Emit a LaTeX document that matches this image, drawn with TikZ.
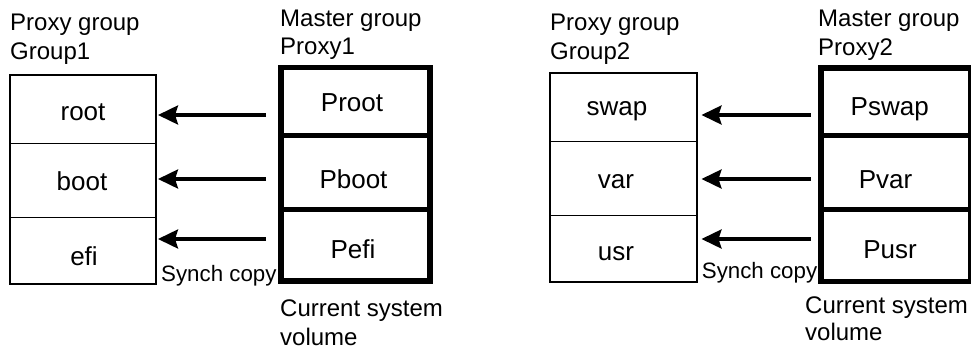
\documentclass[tikz,border=0pt]{standalone}
\usepackage{fontspec}
\setmainfont{Liberation Sans}
\usetikzlibrary{arrows.meta}
\begin{document}
\begin{tikzpicture}[x=1pt,y=-1pt,
  hdr/.style={anchor=base west,inner sep=0pt,font=\fontsize{24}{28}\selectfont},
  lbl/.style={anchor=base,inner sep=0pt,font=\fontsize{26}{30}\selectfont},
  syn/.style={anchor=base west,inner sep=0pt,font=\fontsize{22.3}{26}\selectfont},
  thinbox/.style={draw,line width=1.5pt},
  thickbox/.style={draw,line width=5.5pt},
  sepline/.style={draw,line width=5pt},
  copyarrow/.style={-{Stealth[length=20pt,width=19pt,inset=3pt]},line width=3.4pt}]
\useasboundingbox (0,0) rectangle (971,351);
\clip (0,0) rectangle (971,351);

% ---------- left group ----------
\node[hdr] (pg1a) at (10,30) {Proxy group};
\node[hdr] (pg1b) at (10,59) {Group1};
\draw[thinbox] (10,75) rectangle (156,284);
\draw[thinbox] (10,143.3) -- (156,143.3);
\draw[thinbox] (10,217.3) -- (156,217.3);
\node[lbl] (root) at (83,120) {root};
\node[lbl] (boot) at (82,190) {boot};
\node[lbl] (efi) at (84,265) {efi};

\node[hdr] (mg1a) at (280,26.7) {Master group};
\node[hdr] (mg1b) at (280,54.5) {Proxy1};
\draw[thickbox] (281,67.5) rectangle (430,281);
\draw[sepline] (281,135) -- (430,135);
\draw[sepline] (281,209.5) -- (430,209.5);
\node[lbl] (proot) at (352,111.7) {Proot};
\node[lbl] (pboot) at (353.5,188) {Pboot};
\node[lbl] (pefi) at (353,258) {Pefi};

\coordinate (l1s) at (266,115);  \coordinate (l1e) at (158,115);
\coordinate (l2s) at (266,179);  \coordinate (l2e) at (158,179);
\coordinate (l3s) at (266,239);  \coordinate (l3e) at (158,239);
\draw[copyarrow] (l1s) -- (l1e);
\draw[copyarrow] (l2s) -- (l2e);
\draw[copyarrow] (l3s) -- (l3e);
\node[syn] (sc1) at (161,281.7) {Synch copy};
\node[hdr] (cs1a) at (280,316.7) {Current system};
\node[hdr] (cs1b) at (280,345) {volume};

% ---------- right group ----------
\node[hdr] (pg2a) at (550,30.5) {Proxy group};
\node[hdr] (pg2b) at (550,59) {Group2};
\draw[thinbox] (550,73) rectangle (697,282);
\draw[thinbox] (550,141.3) -- (697,141.3);
\draw[thinbox] (550,215.7) -- (697,215.7);
\node[lbl] (swap) at (617,115) {swap};
\node[lbl] (var) at (616,188.3) {var};
\node[lbl] (usr) at (616,260) {usr};

\node[hdr] (mg2a) at (818,26.7) {Master group};
\node[hdr] (mg2b) at (818,55) {Proxy2};
\draw[thickbox] (821,67.8) rectangle (971,281.7);
\draw[sepline] (821,135) -- (971,135);
\draw[sepline] (821,209.3) -- (971,209.3);
\node[lbl] (pswap) at (889.7,115) {Pswap};
\node[lbl] (pvar) at (885.5,188) {Pvar};
\node[lbl] (pusr) at (890,258) {Pusr};

\coordinate (r1s) at (810.7,115);  \coordinate (r1e) at (701.5,115);
\coordinate (r2s) at (810.7,179);  \coordinate (r2e) at (701.5,179);
\coordinate (r3s) at (810.7,239);  \coordinate (r3e) at (701.5,239);
\draw[copyarrow] (r1s) -- (r1e);
\draw[copyarrow] (r2s) -- (r2e);
\draw[copyarrow] (r3s) -- (r3e);
\node[syn] (sc2) at (701.7,278.3) {Synch copy};
\node[hdr] (cs2a) at (805,313.3) {Current system};
\node[hdr] (cs2b) at (805,340) {volume};
\end{tikzpicture}
\end{document}
